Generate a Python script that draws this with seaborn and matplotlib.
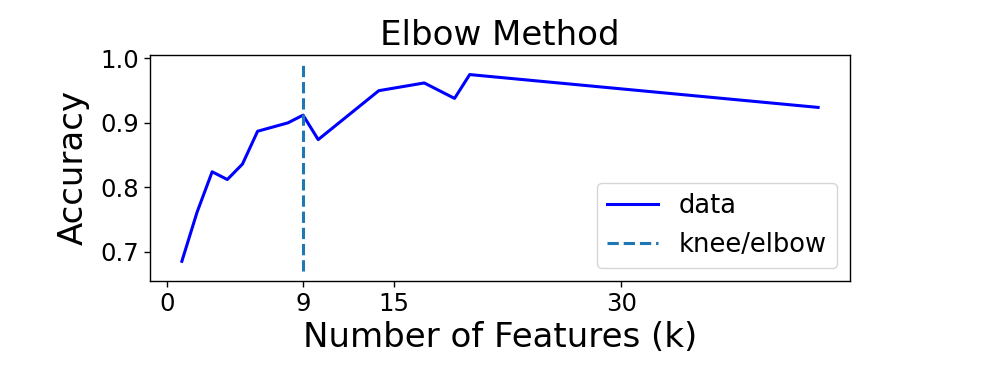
import matplotlib
matplotlib.use("Agg")
import matplotlib.pyplot as plt
import seaborn as sns
import pandas as pd

n_features = [1, 2, 3, 4, 5, 6, 8, 9, 10, 14, 17, 19, 20, 43]
accuracy = [0.685, 0.761, 0.824, 0.812, 0.836, 0.887, 0.900, 0.912, 0.874, 0.950, 0.962, 0.938, 0.975, 0.924]
knee = 9
xticks = [0, 9, 15, 30]

df = pd.DataFrame({"k": n_features, "acc": accuracy})

fig = plt.figure(figsize=(9.97, 3.74), dpi=100)
ax = fig.add_axes([0.1505, 0.249, 0.702, 0.604])
sns.lineplot(data=df, x="k", y="acc", color="blue", linewidth=2.2, label="data", ax=ax)
ylim = ax.get_ylim()
ax.vlines(knee, ylim[0], ylim[1], linestyles="--", colors="C0", linewidth=2.2, label="knee/elbow")
ax.set_xticks(xticks)
ax.tick_params(labelsize=17.6, width=1.0, length=4.3)
for s in ax.spines.values():
    s.set_linewidth(1.0)
ax.set_title("Elbow Method", fontsize=24.5, pad=7)
ax.set_xlabel("Number of Features (k)", fontsize=24.5)
ax.set_ylabel("Accuracy", fontsize=24.5, labelpad=7.5)
ax.legend(loc="lower right", fontsize=18.5)
fig.savefig("out.png", dpi=100)
